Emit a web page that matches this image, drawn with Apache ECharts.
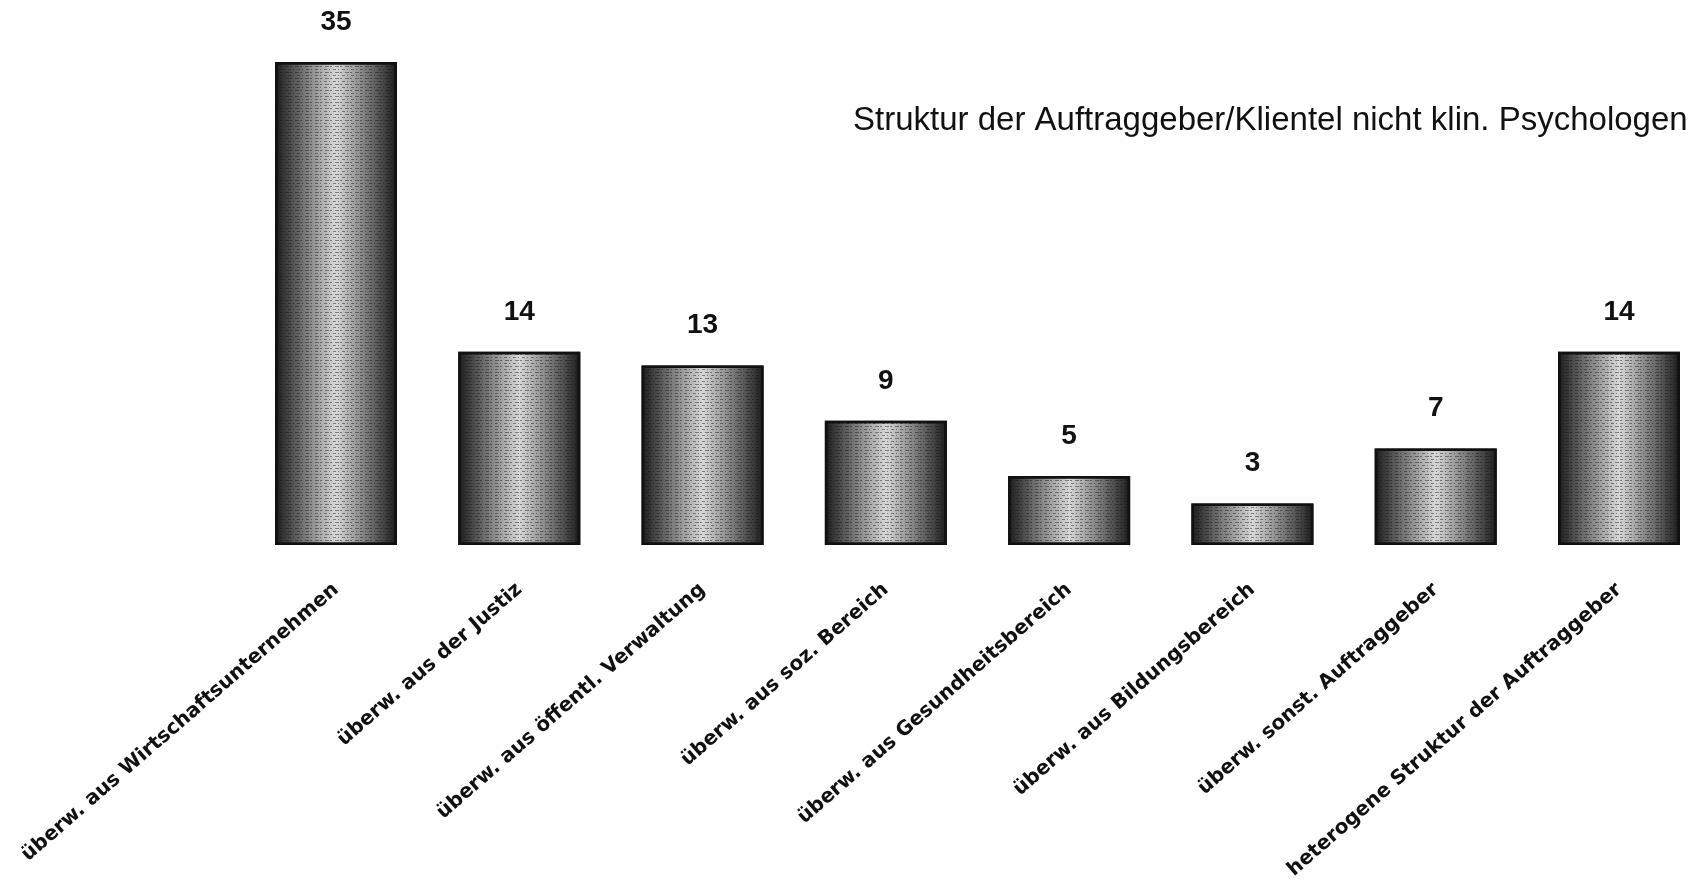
<!DOCTYPE html>
<html>
<head>
<meta charset="utf-8">
<script src="https://cdn.jsdelivr.net/npm/echarts@6/dist/echarts.min.js"></script>
<style>
  html, body { margin: 0; padding: 0; background: #ffffff; }
  #chart { width: 1693px; height: 893px; }
</style>
</head>
<body>
<div id="chart"></div>
<script>
// Auftraggeber / Klientel of non-clinical psychologists (counts)
const categories = [
  'überw. aus Wirtschaftsunternehmen',
  'überw. aus der Justiz',
  'überw. aus öffentl. Verwaltung',
  'überw. aus soz. Bereich',
  'überw. aus Gesundheitsbereich',
  'überw. aus Bildungsbereich',
  'überw. sonst. Auftraggeber',
  'heterogene Struktur der Auftraggeber'
];
const counts = [35, 14, 13, 9, 5, 3, 7, 14];
const titleText = 'Struktur der Auftraggeber/Klientel nicht klin. Psychologen';

const chart = echarts.init(document.getElementById('chart'), null, { renderer: 'canvas' });

// shaded cylinder-like fill: dark edges, light centre
const barFill = new echarts.graphic.LinearGradient(0, 0, 1, 0, [
  { offset: 0.00, color: '#1a1a1a' },
  { offset: 0.18, color: '#606060' },
  { offset: 0.50, color: '#d8d8d8' },
  { offset: 0.82, color: '#606060' },
  { offset: 1.00, color: '#1a1a1a' }
]);

chart.setOption({
  backgroundColor: '#ffffff',
  animation: false,
  title: {
    text: titleText,
    left: 848,
    top: 99,
    textStyle: {
      fontFamily: 'Liberation Sans, Arial, sans-serif',
      fontWeight: 'normal',
      fontSize: 33,
      color: '#111111'
    }
  },
  // categories sit on the grid edges, so the outer bars reach the page border
  grid: { left: 336, right: 74, top: 62, bottom: 348, containLabel: false },
  xAxis: {
    type: 'category',
    data: categories,
    boundaryGap: false,
    axisLine: { show: false },
    axisTick: { show: false },
    axisLabel: {
      interval: 0,
      rotate: 41,
      margin: 42,
      fontFamily: 'DejaVu Sans, sans-serif',
      fontWeight: 'bold',
      fontSize: 20,
      color: '#111111'
    }
  },
  yAxis: {
    type: 'value',
    min: 0,
    max: 35,
    show: false,
    splitLine: { show: false }
  },
  series: [{
    type: 'bar',
    data: counts,
    barWidth: 122,
    itemStyle: {
      color: barFill,
      borderColor: '#111111',
      borderWidth: 2.5,
      decal: {
        symbol: 'rect',
        symbolSize: 1,
        dashArrayX: [[3, 2, 1, 3], [2, 3, 4, 1]],
        dashArrayY: [1, 2],
        rotation: 0,
        color: 'rgba(20,20,20,0.45)',
        backgroundColor: 'rgba(0,0,0,0)'
      }
    },
    label: {
      show: true,
      position: 'top',
      distance: 26,
      fontFamily: 'Liberation Sans, Arial, sans-serif',
      fontWeight: 'bold',
      fontSize: 28,
      color: '#111111'
    }
  }]
});
</script>
</body>
</html>
